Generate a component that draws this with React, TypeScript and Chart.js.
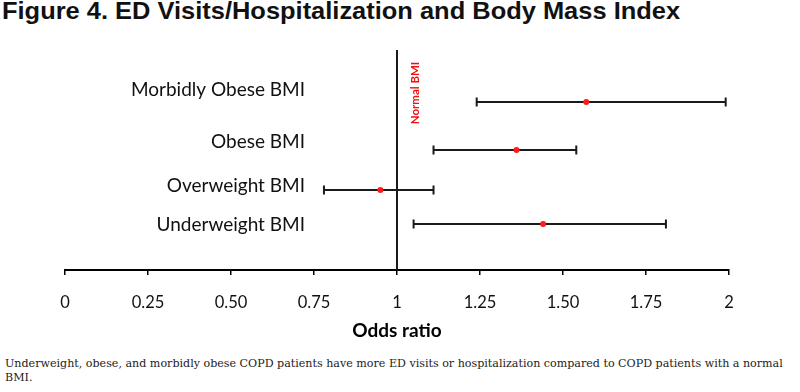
import React, { useEffect, useRef } from "react";
import { Chart, registerables } from "chart.js";

Chart.register(...registerables);

// ---------- data ----------
const categories = ["Morbidly Obese BMI", "Obese BMI", "Overweight BMI", "Underweight BMI"];
const oddsRatio = [1.57, 1.36, 0.95, 1.44];
const ciLower = [1.24, 1.11, 0.78, 1.05];
const ciUpper = [1.99, 1.54, 1.11, 1.81];
const xTickLabels = ["0", "0.25", "0.50", "0.75", "1", "1.25", "1.50", "1.75", "2"];
const referenceValue = 1;
const referenceLabel = "Normal BMI";

const titleText = "Figure 4. ED Visits/Hospitalization and Body Mass Index";
const captionLine1 =
  "Underweight, obese, and morbidly obese COPD patients have more ED visits or hospitalization compared to COPD patients with a normal";
const captionLine2 = "BMI.";

// ---------- layout (vertical slots in y-scale units) ----------
const ROW_Y = [168, 120, 80, 46];
const LABEL_Y = [180, 128, 84, 45];
const REF_TOP = 220;
const Y_MAX = 230;

const labelPlugin = {
  id: "rowLabels",
  afterDatasetsDraw(chart: any) {
    const { ctx, scales } = chart;
    const xs = scales.x;
    const ys = scales.y;
    ctx.save();
    ctx.fillStyle = "#111";
    ctx.font = "19px Lato, 'Open Sans', sans-serif";
    ctx.textAlign = "right";
    ctx.textBaseline = "middle";
    categories.forEach((c, i) => {
      ctx.fillText(c, xs.getPixelForValue(0.723), ys.getPixelForValue(LABEL_Y[i]));
    });
    // reference label (rotated)
    ctx.fillStyle = "#ee1111";
    ctx.font = "bold 11.5px Lato, 'Open Sans', sans-serif";
    ctx.translate(xs.getPixelForValue(referenceValue) + 18, ys.getPixelForValue(177));
    ctx.rotate(-Math.PI / 2);
    ctx.textAlign = "center";
    ctx.fillText(referenceLabel, 0, 0);
    ctx.restore();
  },
};

export default function App() {
  const ref = useRef<HTMLCanvasElement | null>(null);

  useEffect(() => {
    if (!ref.current) return;
    const barColor = "#1a1a1a";
    const errorSets = categories.map((c, i) => ({
      type: "line" as const,
      label: c,
      data: [
        { x: ciLower[i], y: ROW_Y[i] },
        { x: ciUpper[i], y: ROW_Y[i] },
      ],
      borderColor: barColor,
      borderWidth: 2,
      showLine: true,
      pointStyle: "line" as const,
      rotation: 90,
      pointRadius: 4.5,
      pointBorderColor: barColor,
      pointBorderWidth: 2,
      order: 2,
      clip: false as any,
    }));
    const chart = new Chart(ref.current, {
      type: "scatter",
      data: {
        datasets: [
          {
            type: "line",
            label: "ref",
            data: [
              { x: referenceValue, y: 0 },
              { x: referenceValue, y: REF_TOP },
            ],
            borderColor: barColor,
            borderWidth: 2,
            pointRadius: 0,
            showLine: true,
            order: 3,
          } as any,
          ...errorSets,
          {
            label: "Odds ratio",
            data: oddsRatio.map((v, i) => ({ x: v, y: ROW_Y[i] })),
            pointBackgroundColor: "#ff1a1a",
            pointBorderWidth: 0,
            pointRadius: 3,
            order: 0,
            clip: false as any,
          } as any,
        ],
      },
      options: {
        responsive: false,
        animation: false,
        devicePixelRatio: 1,
        layout: { padding: { left: 65, right: 71, top: 40, bottom: 0 } },
        plugins: { legend: { display: false }, tooltip: { enabled: false } },
        scales: {
          x: {
            type: "linear",
            min: 0,
            max: 2,
            afterFit: (s: any) => {
              s.height = 75;
            },
            afterBuildTicks: (s: any) => {
              s.ticks = xTickLabels.map((_, i) => ({ value: i * 0.25 }));
            },
            ticks: {
              callback: (_v: any, i: number) => xTickLabels[i],
              font: { family: "Lato, 'Open Sans', sans-serif", size: 16.5 },
              color: "#111",
              padding: 18,
              maxRotation: 0,
              autoSkip: false,
            },
            grid: {
              drawOnChartArea: false,
              drawTicks: true,
              tickLength: 5,
              color: "#000",
              lineWidth: 1.5,
            },
            border: { color: "#000", width: 2 },
            title: {
              display: true,
              text: "Odds ratio",
              font: { family: "Lato, 'Open Sans', sans-serif", size: 19, weight: "bold" },
              color: "#000",
              padding: { top: 0, bottom: 3 },
            },
          },
          y: {
            type: "linear",
            display: false,
            min: 0,
            max: Y_MAX,
          },
        },
      },
      plugins: [labelPlugin],
    });
    return () => chart.destroy();
  }, []);

  return (
    <div style={{ position: "absolute", left: 0, top: 0, width: 800, height: 392, background: "#fff", overflow: "hidden" }}>
      <div
        style={{
          position: "absolute",
          left: 2,
          top: -2,
          fontFamily: "'Liberation Sans', Arial, sans-serif",
          fontWeight: "bold",
          fontSize: 24,
          lineHeight: "26px",
          color: "#111",
          whiteSpace: "nowrap",
          transform: "scaleX(1.06)",
          transformOrigin: "left top",
        }}
      >
        {titleText}
      </div>
      <canvas ref={ref} width={800} height={345} style={{ position: "absolute", left: 0, top: 0 }} />
      <div
        style={{
          position: "absolute",
          left: 5,
          top: 357,
          fontFamily: "'DejaVu Serif', serif",
          fontSize: 11.1,
          lineHeight: "14px",
          color: "#222",
          whiteSpace: "nowrap",
        }}
      >
        <div>{captionLine1}</div>
        <div>{captionLine2}</div>
      </div>
    </div>
  );
}
